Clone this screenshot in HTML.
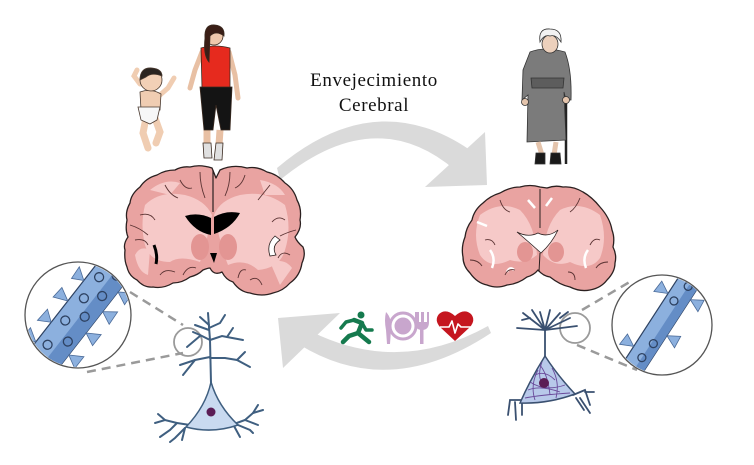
<!DOCTYPE html>
<html><head><meta charset="utf-8"><style>
html,body{margin:0;padding:0;background:#fff;}
svg{display:block;}
</style></head><body>
<svg width="754" height="465" viewBox="0 0 754 465" xmlns="http://www.w3.org/2000/svg">
<rect width="754" height="465" fill="#fff"/>
<defs>
<clipPath id="cL"><circle cx="78" cy="315" r="52"/></clipPath>
<clipPath id="cR"><circle cx="662" cy="325" r="49"/></clipPath>
</defs>

<!-- Title -->
<text x="374" y="86" font-family="'Liberation Serif',serif" font-size="19" letter-spacing="0.6" text-anchor="middle" fill="#111">Envejecimiento</text>
<text x="374" y="111" font-family="'Liberation Serif',serif" font-size="19" letter-spacing="0.6" text-anchor="middle" fill="#111">Cerebral</text>

<!-- top arrow -->
<path d="M277,168 Q375,85 470,150 L455,170 Q375,102 280,180 Z" fill="#dadada"/>
<polygon points="485,132 487,185 425,187" fill="#dadada"/>

<!-- bottom arrow -->
<path d="M488,326 Q400,375 312,332 L300,345 Q390,400 491,333 Z" fill="#dadada"/>
<polygon points="278,318 340,313 283,368" fill="#dadada"/>

<!-- icons -->
<g fill="#157a4e" stroke="#157a4e" stroke-linecap="round" stroke-linejoin="round">
<circle cx="361" cy="315" r="3.5" stroke="none"/>
<path d="M354,320 L362,323 L358,333 L369,342" fill="none" stroke-width="4.5"/>
<path d="M358,333 L349,336 L343,342" fill="none" stroke-width="4.5"/>
<path d="M354,320 L346,322 L341,328" fill="none" stroke-width="3.5"/>
<path d="M362,323 L366,330 L372,330" fill="none" stroke-width="3.5"/>
</g>
<g fill="#c8a6cd">
<path d="M386,312 Q392,318 391,330 L390,344 L387,344 L386,330 Q384,320 386,312Z"/>
<circle cx="403" cy="326" r="13" fill="none" stroke="#c8a6cd" stroke-width="3"/>
<circle cx="403" cy="326" r="8.5"/>
<rect x="420" y="328" width="3.5" height="16"/>
<path d="M415,312 L415,322 Q415,330 422,330 Q429,330 429,322 L429,312 L427,312 L427,322 L424,322 L424,312 L421,312 L421,322 L419,322 L419,312 Z"/>
</g>
<path d="M455,341 L440,327 Q434,320 439,314 Q446,308 455,316 Q464,308 471,314 Q476,320 470,327 Z" fill="#c5161f"/>
<path d="M440,327 L449,327 L452,321 L455,333 L458,324 L461,327 L471,327" fill="none" stroke="#fff" stroke-width="1.6" stroke-linejoin="round"/>

<!-- Left brain -->
<path d="M212,168 Q200,164 190,167 Q182,166 175,170 Q165,170 157,175 Q146,178 140,187 Q131,194 130,203 Q125,212 127,220 Q125,230 128,237 Q123,244 125,250 Q124,260 127,267 Q129,276 137,280 Q144,288 153,287 Q163,289 173,283 Q182,283 190,277 Q198,275 203,270 Q208,268 210,268 Q214,276 222,272 Q226,280 233,282 Q240,292 250,293 Q262,297 273,293 Q283,291 290,283 Q300,276 302,263 Q306,254 303,247 Q297,242 295,237 Q302,228 300,220 Q302,209 297,200 Q294,189 285,183 Q277,174 267,172 Q257,166 247,168 Q233,164 220,170 L216,178 Z" fill="#e9a3a1" stroke="#2b2020" stroke-width="1.3" stroke-linejoin="round"/>
<g fill="#f6c9c8">
<path d="M145,205 Q160,190 185,195 Q205,200 212,215 Q205,250 200,262 Q180,255 170,262 Q150,262 145,245 Q140,225 145,205Z"/>
<path d="M285,205 Q265,190 240,195 Q220,200 214,215 Q222,250 228,265 Q245,258 258,270 Q280,268 285,250 Q292,228 285,205Z"/>
<path d="M150,190 Q165,178 180,183 L170,195Z"/>
<path d="M260,180 Q278,183 285,195 L265,195Z"/>
<path d="M135,255 Q140,245 150,250 L148,275 Q138,272 135,255Z"/>
<path d="M270,262 Q285,258 292,268 L280,285Z"/>
</g>
<g fill="#e39593">
<ellipse cx="200" cy="247" rx="9" ry="13"/>
<ellipse cx="228" cy="247" rx="9" ry="13"/>
</g>
<path d="M185,216 Q198,212 211,218 L211,235 Q195,232 185,216Z" fill="#000"/>
<path d="M214,217 Q226,210 240,213 Q232,228 214,234Z" fill="#000"/>
<path d="M210,253 L217,253 L214,263Z" fill="#000"/>
<path d="M154,245 Q158,255 156,264" stroke="#000" stroke-width="3" fill="none"/>
<path d="M275,236 Q266,244 270,256 L276,255 Q271,246 280,240Z" fill="#fff" stroke="#2b2020" stroke-width="0.8"/>
<path d="M213,170 L213,212" stroke="#2b2020" stroke-width="1.2"/>
<g stroke="#5a3232" stroke-width="0.9" fill="none">
<path d="M140,215 Q150,212 155,220"/><path d="M135,240 Q145,238 148,245"/><path d="M160,275 Q165,268 175,272"/>
<path d="M285,220 Q278,215 272,222"/><path d="M290,255 Q282,250 278,258"/><path d="M262,285 Q258,275 250,280"/>
<path d="M180,180 Q185,190 192,188"/><path d="M245,175 Q242,185 235,188"/>
<path d="M200,172 Q200,185 205,198"/><path d="M165,185 Q170,195 178,198"/><path d="M230,172 Q230,185 225,196"/>
<path d="M270,185 Q262,195 258,200"/><path d="M130,225 Q140,228 148,235"/><path d="M296,230 Q288,232 280,236"/>
<path d="M183,275 Q188,265 196,268"/><path d="M238,278 Q240,268 246,270"/>
</g>

<!-- Right brain -->
<path d="M540,187 Q530,184 520,187 Q510,187 500,193 Q490,196 483,203 Q474,210 472,220 Q466,228 465,237 Q461,247 463,257 Q463,266 470,273 Q477,283 487,285 Q497,289 507,285 Q518,284 527,277 Q534,275 538,270 Q543,276 550,277 Q560,285 570,287 Q580,292 590,290 Q601,288 607,280 Q615,272 615,263 Q617,255 613,247 Q615,238 612,230 Q610,218 600,207 Q592,197 583,192 Q573,186 563,187 Q555,185 547,188 Z" fill="#e9a3a1" stroke="#2b2020" stroke-width="1.3" stroke-linejoin="round"/>
<g fill="#f6c9c8">
<path d="M480,215 Q500,200 520,210 Q535,225 537,255 Q525,265 510,260 Q490,270 480,255 Q472,235 480,215Z"/>
<path d="M600,215 Q580,200 560,210 Q545,225 543,255 Q555,268 570,262 Q590,272 600,258 Q608,238 600,215Z"/>
</g>
<g fill="#e39593">
<ellipse cx="525" cy="252" rx="8" ry="10"/>
<ellipse cx="556" cy="252" rx="8" ry="10"/>
</g>
<path d="M517,232 Q528,238 538,233 Q548,238 558,230 Q552,243 541,253 Q530,243 517,232Z" fill="#fff" stroke="#2b2020" stroke-width="0.8"/>
<path d="M540,189 L540,228 M540,253 L539,272" stroke="#2b2020" stroke-width="1"/>
<g stroke="#fff" stroke-width="2.5" fill="none">
<path d="M477,222 L487,226"/><path d="M490,250 Q496,258 492,268"/><path d="M588,250 Q582,258 586,268"/><path d="M528,200 L535,208"/><path d="M552,198 L546,206"/><path d="M507,272 Q510,266 514,270"/>
</g>
<g stroke="#5a3232" stroke-width="0.9" fill="none">
<path d="M485,240 Q492,238 495,245"/><path d="M600,240 Q594,237 590,245"/><path d="M505,275 Q508,268 515,270"/><path d="M575,280 Q575,272 568,272"/>
<path d="M500,200 Q503,210 510,212"/><path d="M580,198 Q576,208 570,212"/><path d="M470,260 Q478,260 482,266"/><path d="M608,262 Q600,262 596,268"/>
</g>

<!-- dashed zoom lines -->
<g stroke="#9a9a9a" stroke-width="2.5" stroke-dasharray="9,6" fill="none">
<path d="M130,292 L183,325"/>
<path d="M87,372 L183,353"/>
<path d="M582,310 L633,280"/>
<path d="M577,345 L637,370"/>
</g>
<circle cx="188" cy="342" r="14" fill="none" stroke="#9a9a9a" stroke-width="1.8"/>
<circle cx="575" cy="328" r="15" fill="none" stroke="#9a9a9a" stroke-width="1.8"/>

<!-- left magnified dendrite -->
<g clip-path="url(#cL)">
<g transform="translate(80,313) rotate(-52)">
<rect x="-75" y="-17" width="150" height="34" fill="#8cb0de" stroke="#2e4262" stroke-width="1.2"/>
<rect x="-75" y="2" width="150" height="15" fill="#648dc6"/>
<g fill="#8cb0de" stroke="#4a6a98" stroke-width="0.8">
<path d="M-50,-17 L-56,-30 L-42,-30 Z"/><path d="M-25,-17 L-32,-29 L-17,-28 Z"/><path d="M2,-17 L-4,-31 L9,-30 Z"/><path d="M28,-17 L22,-28 L36,-29 Z"/><path d="M50,-17 L44,-30 L58,-29 Z"/>
<path d="M-40,17 L-47,30 L-32,30 Z"/><path d="M-12,17 L-18,30 L-4,30 Z"/><path d="M15,17 L9,30 L24,29 Z"/><path d="M40,17 L34,30 L48,29 Z"/>
</g>
<g fill="none" stroke="#2e4262" stroke-width="1.3">
<circle cx="-45" cy="-6" r="4.5"/><circle cx="-30" cy="8" r="4.5"/><circle cx="-15" cy="-7" r="4.5"/><circle cx="0" cy="6" r="4.5"/><circle cx="14" cy="-6" r="4.5"/><circle cx="27" cy="7" r="4.5"/><circle cx="40" cy="-7" r="4.5"/><circle cx="52" cy="6" r="4.5"/>
</g>
</g>
</g>
<circle cx="78" cy="315" r="53" fill="none" stroke="#555" stroke-width="1.3"/>

<!-- right magnified dendrite -->
<g clip-path="url(#cR)">
<g transform="translate(662,323) rotate(-57)">
<rect x="-70" y="-11" width="140" height="22" fill="#8cb0de" stroke="#2e4262" stroke-width="1.2"/>
<rect x="-70" y="2" width="140" height="9" fill="#648dc6"/>
<g fill="#8cb0de" stroke="#4a6a98" stroke-width="0.8">
<path d="M-35,-11 L-41,-24 L-28,-23 Z"/><path d="M28,-11 L22,-24 L35,-23 Z"/>
<path d="M-8,11 L-14,24 L-1,23 Z"/><path d="M35,11 L29,24 L42,23 Z"/>
</g>
<g fill="none" stroke="#2e4262" stroke-width="1.3">
<circle cx="-40" cy="2" r="4"/><circle cx="-22" cy="4" r="4"/><circle cx="25" cy="-2" r="4"/><circle cx="45" cy="2" r="4"/>
</g>
</g>
</g>
<circle cx="662" cy="325" r="50" fill="none" stroke="#555" stroke-width="1.3"/>

<!-- left neuron -->
<g stroke="#3f5f80" stroke-width="2" fill="none" stroke-linecap="round">
<path d="M211,383 L210,340 L208,313"/>
<path d="M210,357 L195,360 L180,365"/><path d="M195,360 L183,375"/>
<path d="M210,358 L225,358 L237,360 L250,367"/><path d="M237,360 L245,352"/>
<path d="M210,340 L200,335 L193,332"/><path d="M200,336 L187,347"/>
<path d="M210,340 L222,336 L227,337 L243,340"/><path d="M227,337 L233,328"/>
<path d="M209,325 L200,317"/><path d="M209,328 L220,323 L225,315"/><path d="M209,330 L195,325"/>
<path d="M190,425 L177,423 L165,420 L155,423"/><path d="M177,423 L170,430 L160,437"/><path d="M185,428 L175,438 L170,442"/><path d="M185,428 L182,440"/><path d="M165,420 L158,414"/>
<path d="M234,424 L245,420 L253,413 L263,410"/><path d="M245,420 L258,425"/><path d="M234,426 L240,437"/><path d="M238,425 L250,430 L253,433"/><path d="M253,413 L258,405"/>
</g>
<path d="M211,382 Q206,406 186,427 Q212,434 238,425 Q218,406 211,382Z" fill="#c9daf0" stroke="#3f5f80" stroke-width="1.5"/>
<circle cx="211" cy="412" r="4.5" fill="#5b1d55"/>

<!-- right neuron -->
<g stroke="#3a5070" stroke-width="1.8" fill="none" stroke-linecap="round">
<path d="M545,358 L545,330"/>
<path d="M545,330 L523,313"/><path d="M545,330 L532,310"/><path d="M545,330 L540,312"/><path d="M545,330 L550,310"/><path d="M545,330 L560,313"/><path d="M545,330 L570,318"/><path d="M545,330 L577,326"/><path d="M545,330 L517,328"/><path d="M530,318 L522,320"/><path d="M560,318 L568,312"/>
<path d="M522,400 L510,400 L508,415"/><path d="M515,402 L516,420"/><path d="M522,402 L522,415"/>
<path d="M573,395 L585,390 L590,405"/><path d="M585,392 L594,392"/><path d="M576,398 L584,410"/><path d="M580,398 L590,413"/>
</g>
<path d="M545,356 Q530,380 520,403 Q548,404 575,394 Q558,376 545,356Z" fill="#b8c9ea" stroke="#3a5070" stroke-width="1.5"/>
<g stroke="#6a4a9a" stroke-width="0.9" fill="none">
<path d="M535,375 Q545,370 555,380"/><path d="M528,390 Q540,385 560,392"/><path d="M530,382 Q545,392 565,385"/><path d="M540,365 Q548,375 550,395"/><path d="M525,398 Q540,395 570,393"/>
<path d="M538,370 Q530,385 535,400"/><path d="M552,368 Q560,382 556,398"/><path d="M542,362 Q536,378 545,388"/>
</g>
<circle cx="544" cy="383" r="5" fill="#5b1d55"/>

<!-- baby -->
<g stroke="#4a3a30" stroke-width="0.8">
<path d="M140,84 L134,76 L137,70" fill="none" stroke="#f0cdb2" stroke-width="5" stroke-linecap="round"/>
<path d="M160,95 L168,88 L174,78" fill="none" stroke="#f0cdb2" stroke-width="5" stroke-linecap="round"/>
<path d="M146,118 L143,133 L148,148" fill="none" stroke="#f0cdb2" stroke-width="7" stroke-linecap="round"/>
<path d="M155,118 L160,132 L156,143" fill="none" stroke="#f0cdb2" stroke-width="7" stroke-linecap="round"/>
<path d="M140,92 Q151,88 161,94 L160,110 L141,110Z" fill="#f0cdb2"/>
<path d="M138,107 L160,107 L157,120 L150,124 L141,120Z" fill="#f7f7f7"/>
<circle cx="151" cy="80" r="11" fill="#f2d0b6"/>
<path d="M140,80 Q140,67 152,68 Q162,69 162,76 Q152,72 146,77 Z" fill="#2a2420"/>
</g>

<!-- woman -->
<g stroke="#3a2a20" stroke-width="0.8">
<path d="M202,52 L195,70 L190,88" fill="none" stroke="#e8c0a4" stroke-width="5" stroke-linecap="round"/>
<path d="M229,52 L235,75 L238,98" fill="none" stroke="#e8c0a4" stroke-width="5" stroke-linecap="round"/>
<path d="M207,130 L207,145 M220,130 L219,145" stroke="#e8c0a4" stroke-width="7"/>
<path d="M201,48 Q215,44 230,48 L230,88 L202,88Z" fill="#e62a1e"/>
<path d="M200,87 L232,87 L230,130 L221,130 L216,105 L213,130 L204,130Z" fill="#141414"/>
<path d="M203,143 L211,143 L212,158 L204,158Z M216,143 L223,143 L222,160 L214,160Z" fill="#e0e0e0"/>
<circle cx="214" cy="36" r="9" fill="#efc8ac"/>
<path d="M205,38 Q204,24 215,25 Q225,26 224,36 Q216,30 210,36 L209,62 Q203,55 205,38Z" fill="#3a1e16"/>
</g>

<!-- old woman -->
<g stroke="#333" stroke-width="0.8">
<path d="M566,98 L566,164" stroke="#222" stroke-width="2.5"/>
<path d="M530,52 Q545,46 565,52 Q572,70 571,100 L566,100 L564,92 L566,140 L527,142 L528,95 L522,100 L523,70 Z" fill="#7b7b7b"/>
<path d="M531,78 L564,78 L563,88 L532,88Z" fill="#5d5d5d"/>
<path d="M538,142 L542,155 M556,142 L554,155" stroke="#e4c4ac" stroke-width="5"/>
<path d="M536,153 L545,153 L545,164 L535,164Z M551,153 L560,153 L561,164 L550,164Z" fill="#1a1a1a"/>
<circle cx="525" cy="102" r="3.5" fill="#e4c4ac"/>
<circle cx="566" cy="100" r="3.5" fill="#e4c4ac"/>
<ellipse cx="550" cy="44" rx="8" ry="9" fill="#ecd0bc"/>
<path d="M540,42 Q538,28 550,29 Q562,29 561,42 Q556,34 550,36 Q544,34 540,42Z" fill="#f2f2f2"/>
</g>
</svg>
</body></html>
